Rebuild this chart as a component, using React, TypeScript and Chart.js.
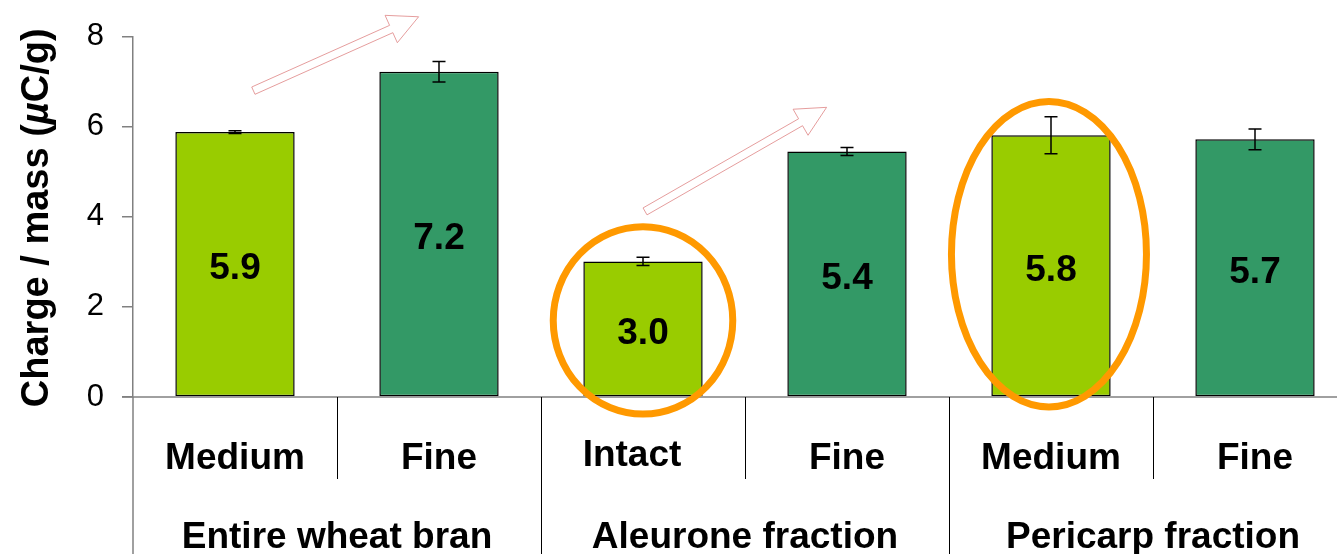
import React, { useEffect, useRef } from "react";
import { Chart, registerables } from "chart.js";

Chart.register(...registerables);

// ---- data ----
const subLabels = ["Medium", "Fine", "Intact", "Fine", "Medium", "Fine"];
const groupLabels = ["Entire wheat bran", "Aleurone fraction", "Pericarp fraction"];
const values = [5.88, 7.22, 3.01, 5.45, 5.81, 5.72];
const errors = [0.03, 0.23, 0.09, 0.09, 0.41, 0.23];
const valueLabels = ["5.9", "7.2", "3.0", "5.4", "5.8", "5.7"];
const yTicks = [0, 2, 4, 6, 8];
const yTitle = ["Charge / mass (", "µ", "C/g)"];

// annotations in data space: [x index, y value]
const arrows = [
  { tail: [0.09, 6.8], tip: [0.9, 8.44] },
  { tail: [2.01, 4.12], tip: [2.9, 6.43] },
];
const ellipses = [
  { cx: 2.0, cy: 1.7, rx: 0.44, ry: 2.08 },
  { cx: 3.99, cy: 3.17, rx: 0.478, ry: 3.39 },
];

const LIGHT = "#99CC00";
const DARK = "#339966";
const barColors = [LIGHT, DARK, LIGHT, DARK, LIGHT, DARK];
const FONT = "'Liberation Sans', Arial, sans-serif";

const overlay = {
  id: "overlay",
  afterDatasetsDraw(chart: any) {
    const ctx = chart.ctx as CanvasRenderingContext2D;
    const xs = chart.scales.x;
    const ys = chart.scales.y;
    const area = chart.chartArea;
    const meta = chart.getDatasetMeta(0);
    const catW = (area.right - area.left) / subLabels.length;
    ctx.save();

    // error bars
    ctx.strokeStyle = "#000";
    ctx.lineWidth = 1.5;
    meta.data.forEach((bar: any, i: number) => {
      const x = bar.x;
      const y1 = ys.getPixelForValue(values[i] + errors[i]);
      const y2 = ys.getPixelForValue(values[i] - errors[i]);
      ctx.beginPath();
      ctx.moveTo(x, y1);
      ctx.lineTo(x, y2);
      ctx.moveTo(x - 6.5, y1);
      ctx.lineTo(x + 6.5, y1);
      ctx.moveTo(x - 6.5, y2);
      ctx.lineTo(x + 6.5, y2);
      ctx.stroke();
    });

    // value labels
    ctx.fillStyle = "#000";
    ctx.font = `bold 37px ${FONT}`;
    ctx.textAlign = "center";
    ctx.textBaseline = "alphabetic";
    meta.data.forEach((bar: any, i: number) => {
      const yc = (bar.y + bar.base) / 2 + 2;
      ctx.fillText(valueLabels[i], bar.x, yc + 13.2);
    });

    // x axis line
    ctx.strokeStyle = "#808080";
    ctx.lineWidth = 1.5;
    ctx.beginPath();
    ctx.moveTo(area.left - 11, area.bottom);
    ctx.lineTo(area.right, area.bottom);
    ctx.stroke();

    // y axis extension down
    ctx.beginPath();
    ctx.moveTo(area.left, area.bottom);
    ctx.lineTo(area.left, chart.height);
    ctx.stroke();

    // separators
    ctx.strokeStyle = "#000";
    ctx.lineWidth = 1;
    for (let i = 1; i <= subLabels.length; i++) {
      const x = Math.round(area.left + i * catW) + 0.5;
      const long = i % 2 === 0;
      ctx.beginPath();
      ctx.moveTo(x, area.bottom);
      ctx.lineTo(x, long ? chart.height : area.bottom + 82);
      ctx.stroke();
    }

    // category labels
    ctx.fillStyle = "#000";
    ctx.font = `bold 37px ${FONT}`;
    ctx.textBaseline = "alphabetic";
    subLabels.forEach((lab, i) => {
      const nudgeX = i === 2 ? -11 : 0;
      const nudgeY = i === 2 ? -3 : 0;
      ctx.fillText(lab, xs.getPixelForValue(i) + nudgeX, area.bottom + 72 + nudgeY);
    });
    groupLabels.forEach((lab, g) => {
      const x = (xs.getPixelForValue(g * 2) + xs.getPixelForValue(g * 2 + 1)) / 2;
      ctx.fillText(lab, x, area.bottom + 151);
    });

    // y title
    ctx.save();
    ctx.translate(38, (area.top + area.bottom) / 2 + 1);
    ctx.rotate(-Math.PI / 2);
    const fN = `bold 38px ${FONT}`;
    const fI = `italic bold 38px ${FONT}`;
    ctx.font = fN;
    const w0 = ctx.measureText(yTitle[0]).width;
    const w2 = ctx.measureText(yTitle[2]).width;
    ctx.font = fI;
    const w1 = ctx.measureText(yTitle[1]).width;
    let px = -(w0 + w1 + w2) / 2;
    ctx.textAlign = "left";
    ctx.textBaseline = "middle";
    ctx.font = fN;
    ctx.fillText(yTitle[0], px, 0);
    px += w0;
    ctx.font = fI;
    ctx.fillText(yTitle[1], px, 0);
    px += w1;
    ctx.font = fN;
    ctx.fillText(yTitle[2], px, 0);
    ctx.restore();

    // ellipses
    ctx.strokeStyle = "#FF9900";
    ctx.lineWidth = 7;
    ellipses.forEach((e) => {
      const cx = xs.getPixelForValue(e.cx);
      const cy = ys.getPixelForValue(e.cy);
      const rx = e.rx * catW;
      const ry = Math.abs(ys.getPixelForValue(0) - ys.getPixelForValue(e.ry));
      ctx.beginPath();
      ctx.ellipse(cx, cy, rx, ry, 0, 0, Math.PI * 2);
      ctx.stroke();
    });

    // arrows
    arrows.forEach((a) => {
      const tx = xs.getPixelForValue(a.tail[0]);
      const ty = ys.getPixelForValue(a.tail[1]);
      const hx = xs.getPixelForValue(a.tip[0]);
      const hy = ys.getPixelForValue(a.tip[1]);
      const L = Math.hypot(hx - tx, hy - ty);
      const ux = (hx - tx) / L;
      const uy = (hy - ty) / L;
      const nx = -uy;
      const ny = ux;
      const sw = 4;
      const hw = 15;
      const hl = 30;
      const bx = hx - ux * hl;
      const by = hy - uy * hl;
      const pts = [
        [tx + nx * sw, ty + ny * sw],
        [bx + nx * sw, by + ny * sw],
        [bx + nx * hw, by + ny * hw],
        [hx, hy],
        [bx - nx * hw, by - ny * hw],
        [bx - nx * sw, by - ny * sw],
        [tx - nx * sw, ty - ny * sw],
      ];
      ctx.beginPath();
      pts.forEach((p, k) => (k === 0 ? ctx.moveTo(p[0], p[1]) : ctx.lineTo(p[0], p[1])));
      ctx.closePath();
      ctx.fillStyle = "#FFFFFF";
      ctx.fill();
      ctx.strokeStyle = "rgba(225,140,140,0.85)";
      ctx.lineWidth = 1;
      ctx.stroke();
    });

    ctx.restore();
  },
};

export default function App() {
  const ref = useRef<HTMLCanvasElement | null>(null);
  useEffect(() => {
    if (!ref.current) return;
    const chart = new Chart(ref.current, {
      type: "bar",
      data: {
        labels: subLabels,
        datasets: [
          {
            data: values,
            backgroundColor: barColors,
            borderColor: "#000000",
            borderWidth: 1.5,
            borderSkipped: false,
            categoryPercentage: 1,
            barPercentage: 0.585,
          },
        ],
      },
      options: {
        animation: false,
        responsive: false,
        devicePixelRatio: 1,
        layout: { padding: { top: 33, bottom: 157, left: 0, right: 3 } },
        plugins: {
          legend: { display: false },
          tooltip: { enabled: false },
        },
        scales: {
          x: { display: false },
          y: {
            min: 0,
            max: 8,
            afterBuildTicks: (scale: any) => {
              scale.ticks = yTicks.map((v) => ({ value: v }));
            },
            afterFit: (scale: any) => {
              scale.width = 133;
            },
            ticks: {
              color: "#000",
              font: { family: FONT, size: 31 },
              padding: 18,
            },
            grid: {
              drawOnChartArea: false,
              drawTicks: true,
              tickLength: 11,
              color: "#808080",
              lineWidth: 1.5,
            },
            border: { display: true, color: "#808080", width: 1.5 },
          },
        },
      },
      plugins: [overlay],
    });
    return () => chart.destroy();
  }, []);

  return (
    <div
      style={{
        position: "fixed",
        left: 0,
        top: 0,
        width: 1337,
        height: 554,
        overflow: "hidden",
        background: "#fff",
      }}
    >
      <canvas ref={ref} width={1360} height={554} style={{ display: "block" }} />
    </div>
  );
}
